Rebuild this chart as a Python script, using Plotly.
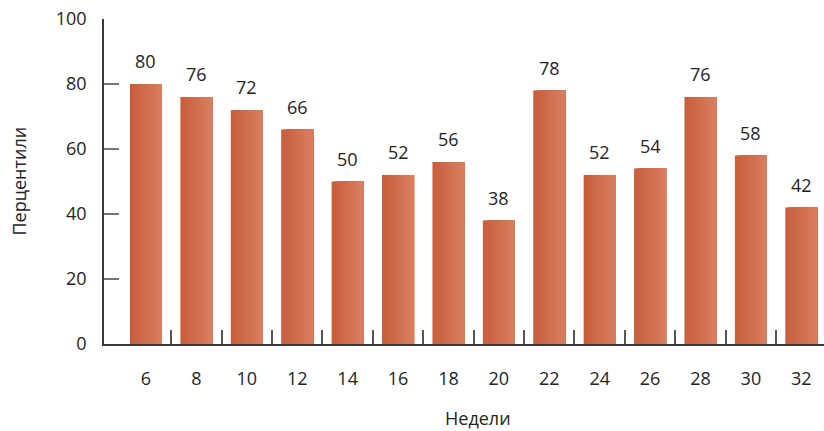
import plotly.graph_objects as go

weeks = ["6", "8", "10", "12", "14", "16", "18", "20", "22", "24", "26", "28", "30", "32"]
percentiles = [80, 76, 72, 66, 50, 52, 56, 38, 78, 52, 54, 76, 58, 42]

x_idx = list(range(len(weeks)))
TEXT = "#262324"
FONT = "Open Sans, Noto Sans, sans-serif"

fig = go.Figure()

# gradient bars: each layer starts further right and runs to the right edge
bar_w = 0.635
n_slices = 16
c0 = (0xC8, 0x5E, 0x3C)
c1 = (0xD8, 0x7E, 0x60)
for k in range(n_slices):
    t = k / (n_slices - 1)
    col = "rgb(%d,%d,%d)" % tuple(round(a + (b - a) * t) for a, b in zip(c0, c1))
    start = k * bar_w / n_slices
    fig.add_trace(go.Bar(
        x=x_idx, y=percentiles,
        width=bar_w - start,
        offset=-bar_w / 2 + start,
        marker=dict(color=col, line=dict(width=0)),
        showlegend=False, hoverinfo="skip",
    ))

# value labels
for xi, v in zip(x_idx, percentiles):
    fig.add_annotation(x=xi, y=v, xref="x", yref="y", text=str(v),
                       showarrow=False, yanchor="bottom", yshift=9,
                       font=dict(family=FONT, size=18, color=TEXT))

# axis titles
fig.add_annotation(xref="x domain", yref="y domain",
                   x=(478 - 104) / 720, y=(344 - 418) / 324.5,
                   xanchor="center", yanchor="middle",
                   text="Недели", showarrow=False, borderpad=0,
                   font=dict(family=FONT, size=18, color=TEXT))
fig.add_annotation(xref="x domain", yref="y domain", x=(18 - 104) / 720, y=0.5,
                   xanchor="center", yanchor="middle",
                   text="Перцентили", textangle=-90, showarrow=False,
                   font=dict(family=FONT, size=18, color=TEXT))

x_range = [-0.833, 13.45]

fig.update_layout(
    width=824, height=431,
    margin=dict(l=104, r=0, t=19, b=87),
    paper_bgcolor="white", plot_bgcolor="white",
    barmode="overlay",
    font=dict(family=FONT, size=18, color=TEXT),
    xaxis=dict(
        range=x_range, showgrid=False, zeroline=False,
        showline=True, linecolor="#3a3a3a", linewidth=1.5,
        tickmode="array", tickvals=[i + 0.5 for i in x_idx[:-1]],
        ticktext=["" for _ in x_idx[:-1]],
        ticks="inside", ticklen=14, tickwidth=1.5, tickcolor="#555555",
    ),
    xaxis2=dict(
        range=x_range, overlaying="x", side="bottom", showgrid=False,
        zeroline=False, showline=False, anchor="y",
        tickmode="array", tickvals=x_idx, ticktext=weeks, ticks="",
        ticklabelstandoff=22,
        tickfont=dict(family=FONT, size=18, color=TEXT),
    ),
    yaxis=dict(
        range=[0, 100], showgrid=False, zeroline=False,
        showline=True, linecolor="#3a3a3a", linewidth=1.5,
        tickmode="array", tickvals=[0, 20, 40, 60, 80, 100],
        ticks="inside", ticklen=15, tickwidth=1.5, tickcolor="#777777",
        ticklabelstandoff=12,
        tickfont=dict(family=FONT, size=18, color=TEXT),
    ),
)

# dummy trace to activate xaxis2
fig.add_trace(go.Scatter(x=[None], y=[None], xaxis="x2", showlegend=False, hoverinfo="skip"))

fig.write_html("out.html")
